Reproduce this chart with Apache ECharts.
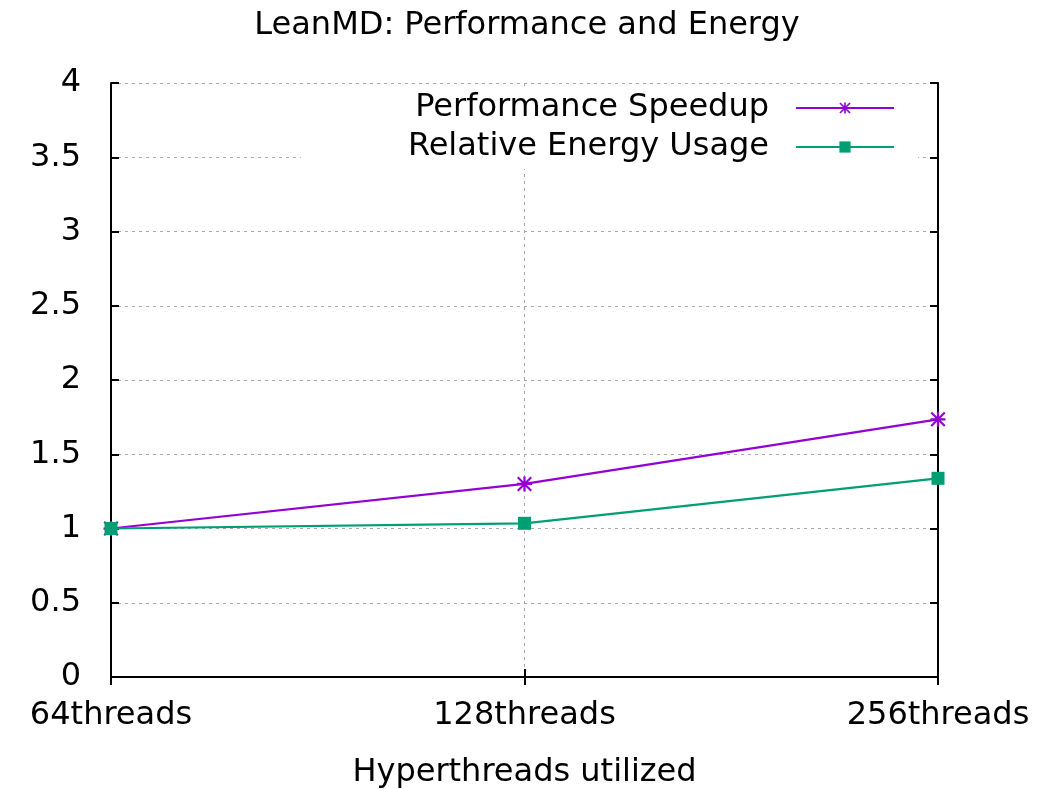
<!DOCTYPE html>
<html>
<head>
<meta charset="utf-8">
<script src="https://cdn.jsdelivr.net/npm/echarts@6/dist/echarts.min.js"></script>
<style>html,body{margin:0;padding:0;background:#fff;}#c{width:1054px;height:789px;}</style>
</head>
<body>
<div id="c"></div>
<script>
const categories = ['64threads', '128threads', '256threads'];
const performanceSpeedup = [1.0, 1.30, 1.735];
const relativeEnergy = [1.0, 1.035, 1.338];
const yTicks = [0, 0.5, 1, 1.5, 2, 2.5, 3, 3.5, 4];

const FONT = 'DejaVu Sans';
const FS = 32;
const starPath = 'path://M8.5,0 L11.5,0 L11.5,20 L8.5,20 Z M0,8.5 L20,8.5 L20,11.5 L0,11.5 Z M0,2 L2,0 L20,18 L18,20 Z M18,0 L20,2 L2,20 L0,18 Z';
const PURPLE = '#9400d3';
const GREEN = '#009e73';

const chart = echarts.init(document.getElementById('c'));
const grid = {left: 111, right: 116, top: 83, bottom: 112, show: false, containLabel: false, outerBoundsMode: 'none'};
const grayDot = {show: true, lineStyle: {color: '#a8a8a8', width: 1, type: [3, 4]}};
chart.setOption({
  animation: false,
  backgroundColor: '#fff',
  textStyle: {fontFamily: FONT},
  title: {
    text: 'LeanMD: Performance and Energy',
    left: 'center', top: 5,
    textStyle: {fontFamily: FONT, fontSize: FS, fontWeight: 'normal', color: '#000'}
  },
  grid: grid,
  legend: [
    {
      data: ['Performance Speedup'],
      right: 136, top: 88,
      align: 'right', itemWidth: 98, itemHeight: 14, itemGap: 0,
      padding: [4, 23, 2, 114],
      backgroundColor: '#fff',
      textStyle: {fontFamily: FONT, fontSize: FS, color: '#000', padding: [0, 22, 0, 0]}
    },
    {
      data: ['Relative Energy Usage'],
      right: 136, top: 125,
      align: 'right', itemWidth: 98, itemHeight: 14, itemGap: 0,
      padding: [6, 23, 6, 107],
      backgroundColor: '#fff',
      textStyle: {fontFamily: FONT, fontSize: FS, color: '#000', padding: [0, 22, 0, 0]}
    }
  ],
  xAxis: [
    {
      type: 'category', data: categories, boundaryGap: false, position: 'bottom',
      name: 'Hyperthreads utilized', nameLocation: 'middle', nameGap: 80,
      nameTextStyle: {fontFamily: FONT, fontSize: FS, color: '#000'},
      axisLine: {show: true, lineStyle: {color: '#000', width: 2}},
      axisTick: {show: true, inside: true, length: 8, lineStyle: {color: '#000', width: 2}},
      axisLabel: {fontFamily: FONT, fontSize: FS, color: '#000', margin: 23},
      splitLine: grayDot
    },
    {
      type: 'category', data: categories, boundaryGap: false, position: 'top',
      axisLine: {show: true, lineStyle: {color: '#000', width: 2}},
      axisTick: {show: true, inside: true, length: 8, lineStyle: {color: '#000', width: 2}},
      axisLabel: {show: false}, splitLine: {show: false}
    }
  ],
  yAxis: [
    {
      type: 'value', min: yTicks[0], max: yTicks[yTicks.length - 1], interval: 0.5, position: 'left',
      axisLine: {show: true, lineStyle: {color: '#000', width: 2}},
      axisTick: {show: true, inside: true, length: 8, lineStyle: {color: '#000', width: 2}},
      axisLabel: {fontFamily: FONT, fontSize: FS, color: '#000', margin: 30, formatter: v => String(v)},
      splitLine: grayDot
    },
    {
      type: 'value', min: yTicks[0], max: yTicks[yTicks.length - 1], interval: 0.5, position: 'right',
      axisLine: {show: true, lineStyle: {color: '#000', width: 2}},
      axisTick: {show: true, inside: true, length: 8, lineStyle: {color: '#000', width: 2}},
      axisLabel: {show: false}, splitLine: {show: false}
    }
  ],
  series: [
    {
      name: 'Performance Speedup', type: 'line', data: performanceSpeedup,
      symbol: starPath, symbolSize: 15, showAllSymbol: true,
      itemStyle: {color: PURPLE}, lineStyle: {color: PURPLE, width: 2.2}, z: 3
    },
    {
      name: 'Relative Energy Usage', type: 'line', data: relativeEnergy,
      symbol: 'rect', symbolSize: 13, showAllSymbol: true,
      itemStyle: {color: GREEN}, lineStyle: {color: GREEN, width: 2.2}, z: 4
    }
  ]
});
</script>
</body>
</html>
